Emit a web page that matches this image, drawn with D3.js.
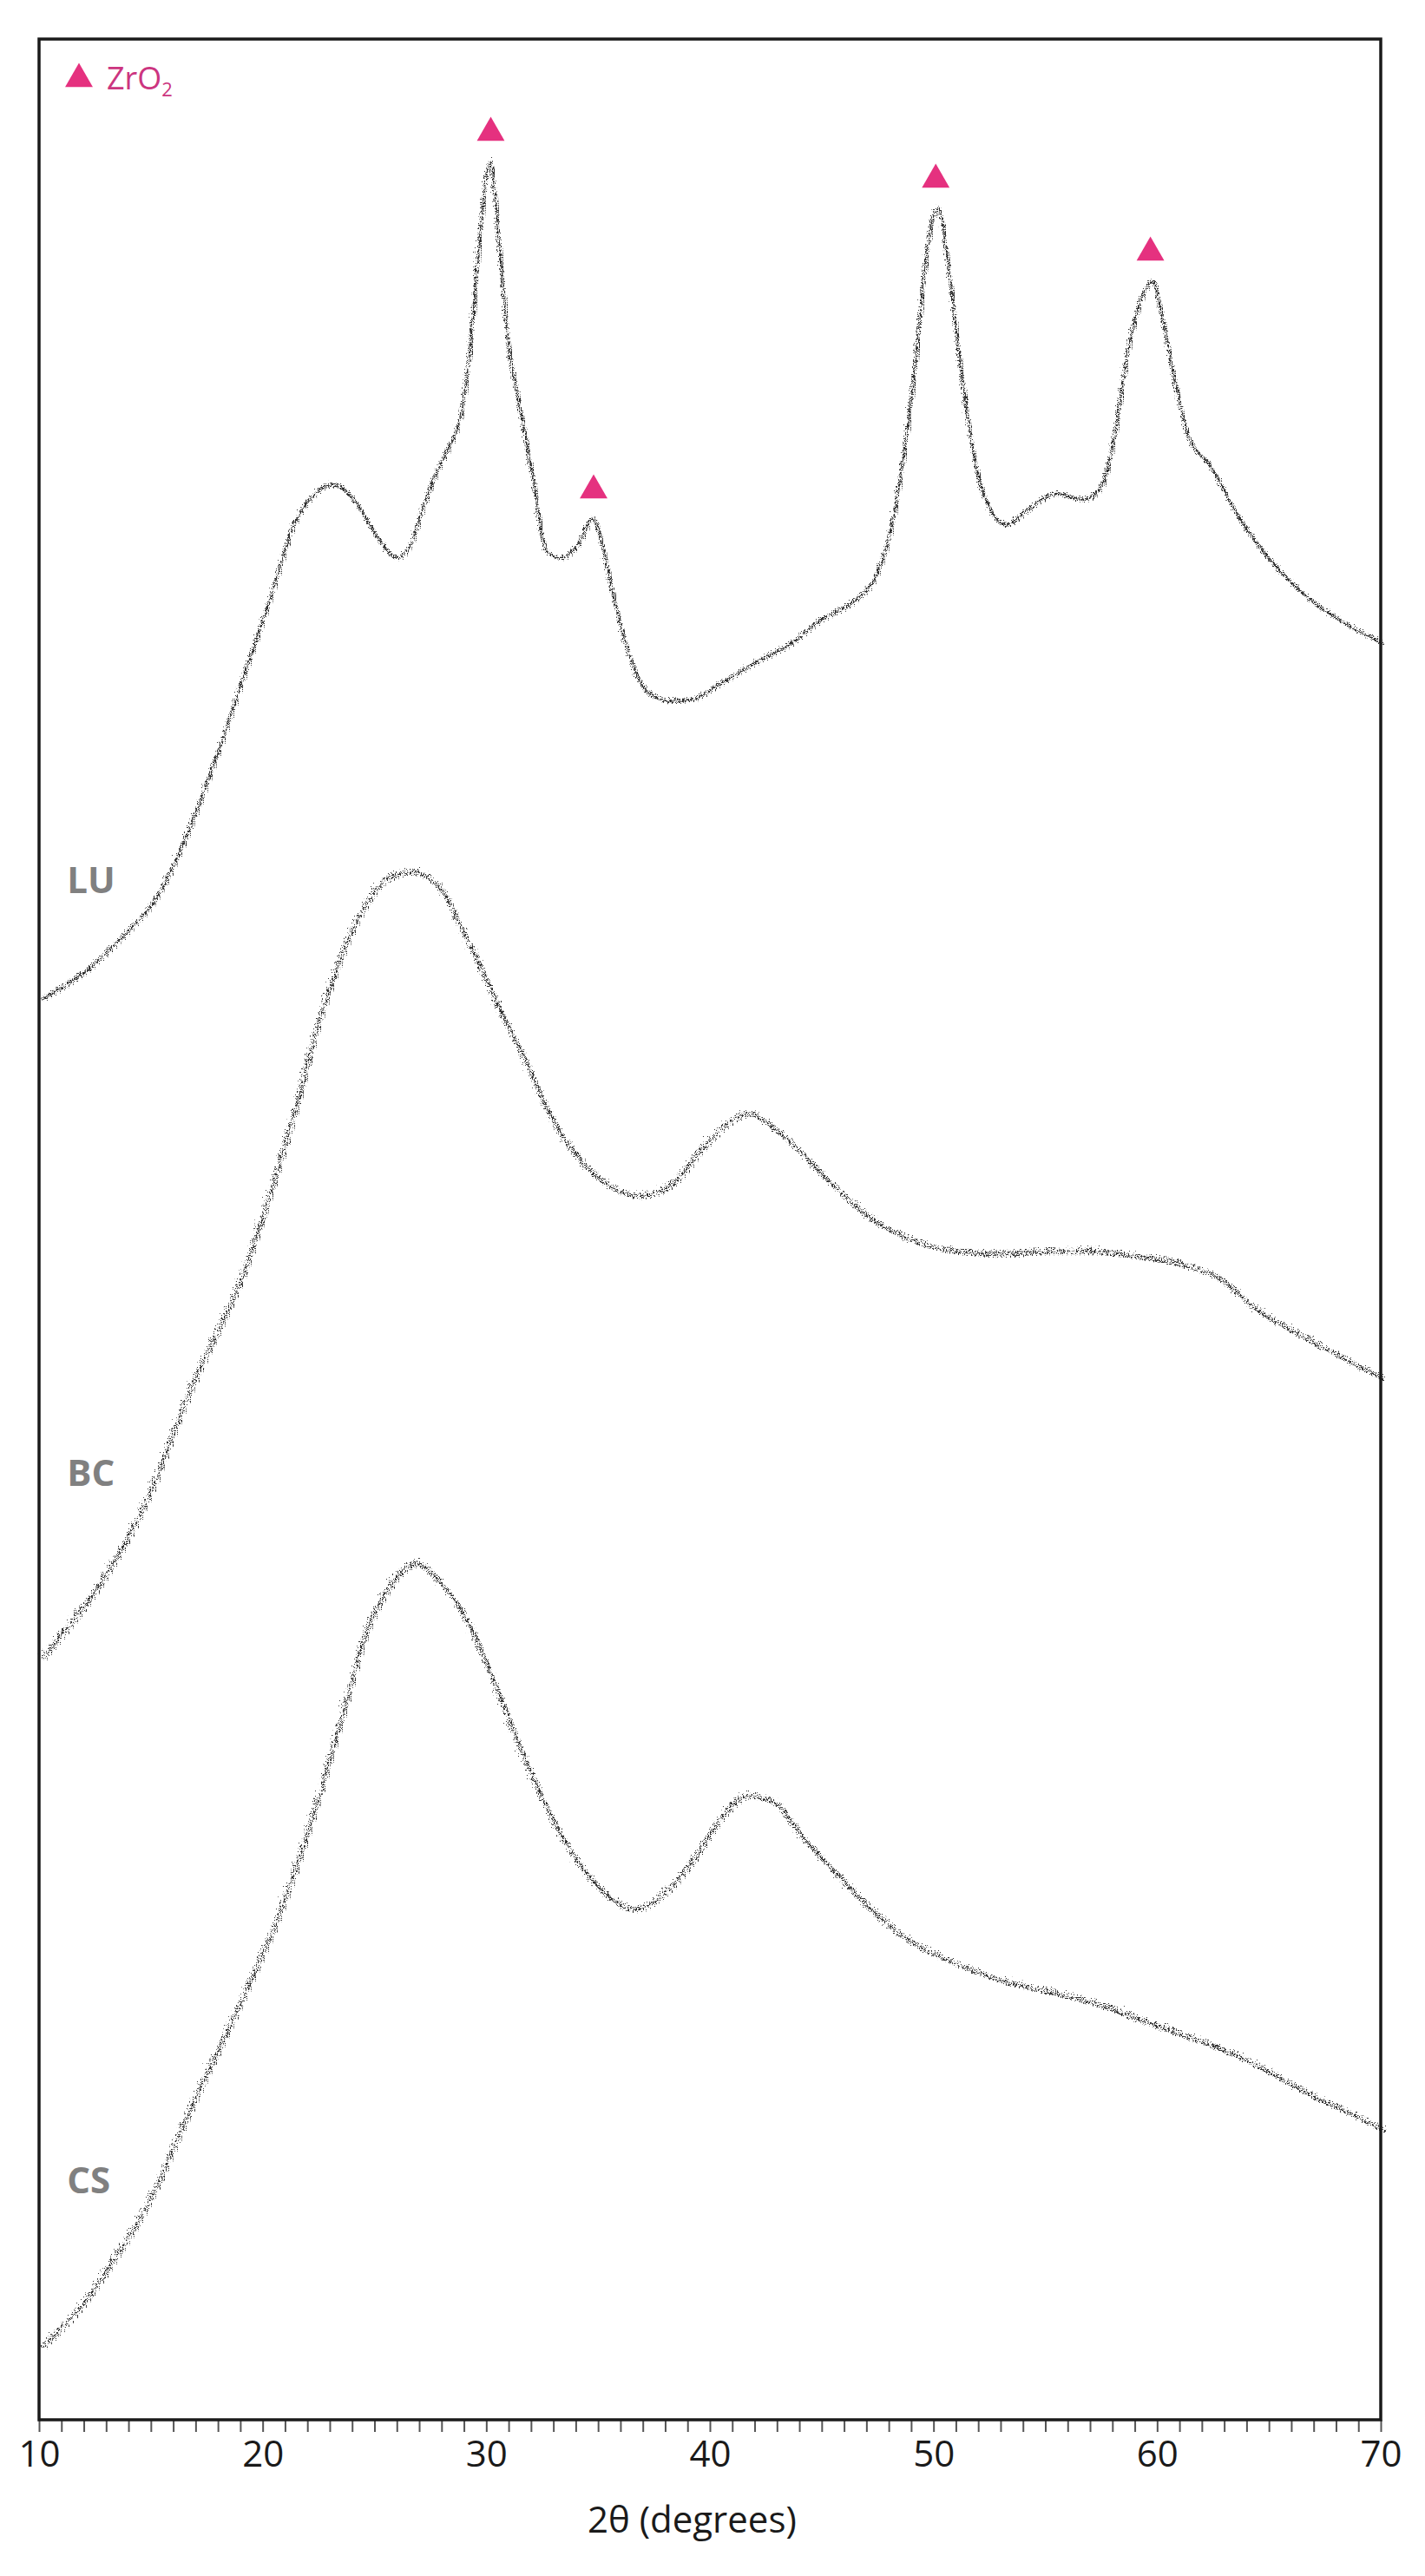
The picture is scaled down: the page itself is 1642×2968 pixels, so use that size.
<!DOCTYPE html>
<html>
<head>
<meta charset="utf-8">
<script src="https://cdn.jsdelivr.net/npm/d3@7/dist/d3.min.js"></script>
<style>
  body { margin: 0; background: #fff; }
  svg { display: block; font-family: "Open Sans", "DejaVu Sans", sans-serif; }
</style>
</head>
<body>
<div id="chart"></div>
<script>
// XRD patterns, 2θ in degrees vs intensity (a.u.)
const luAngles = [10.0, 11.2, 12.3, 13.3, 14.35, 15.0, 15.6, 16.2, 16.8, 18.0, 19.2, 20.4, 21.25, 22.1, 23.1, 24.1, 25.1, 25.9, 26.5, 27.15, 27.8, 28.35, 28.8, 29.2, 29.6, 30.07, 30.5, 30.9, 31.4, 32.0, 32.6, 33.25, 34.05, 34.7, 35.1, 35.7, 36.3, 37.1, 38.1, 39.15, 40.3, 42.0, 43.6, 44.8, 46.4, 47.3, 47.9, 48.5, 49.1, 49.6, 50.1, 50.6, 51.1, 51.7, 52.3, 53.15, 54.15, 55.4, 56.6, 57.4, 58.0, 58.6, 59.25, 59.7, 60.05, 60.7, 61.3, 62.3, 63.5, 65.1, 66.8, 68.4, 70.0];
const luCounts = [89, 107, 128, 152, 180, 200, 226, 259, 296, 380, 472, 563, 633, 668, 682, 661, 619, 598, 612, 661, 703, 731, 766, 843, 963, 1054, 956, 843, 773, 689, 605, 598, 615, 643, 612, 542, 486, 444, 433, 435, 452, 478, 500, 525, 549, 575, 619, 703, 822, 949, 1001, 928, 822, 717, 661, 636, 654, 672, 665, 679, 738, 836, 899, 917, 885, 801, 738, 703, 647, 591, 549, 521, 500];

const bcAngles = [10.0, 11.0, 12.0, 13.0, 14.0, 15.0, 16.0, 17.0, 18.0, 19.0, 20.2, 21.25, 22.3, 23.3, 24.3, 25.3, 26.5, 27.8, 28.6, 29.6, 30.6, 31.6, 32.6, 33.85, 35.1, 36.7, 38.3, 39.5, 40.8, 41.6, 42.8, 44.0, 45.2, 46.9, 48.9, 50.9, 53.0, 55.0, 57.0, 59.05, 61.1, 62.7, 64.3, 66.0, 67.6, 68.8, 70.0];
const bcCounts = [81, 112, 145, 183, 228, 282, 350, 412, 466, 525, 617, 706, 808, 885, 942, 977, 987, 968, 930, 878, 821, 770, 713, 662, 630, 614, 630, 668, 700, 709, 690, 662, 630, 591, 563, 550, 547, 550, 550, 544, 534, 518, 483, 457, 435, 419, 403];

const csAngles = [10.0, 11.5, 13.1, 14.35, 15.35, 16.4, 17.4, 18.4, 19.4, 20.4, 21.4, 22.5, 23.5, 24.5, 25.5, 26.7, 28.0, 29.0, 30.2, 31.4, 32.6, 33.85, 35.1, 36.5, 37.9, 39.15, 40.3, 41.6, 42.8, 44.0, 45.6, 47.3, 48.9, 50.9, 53.0, 55.0, 57.0, 59.05, 61.1, 63.1, 65.1, 67.2, 68.8, 70.0];
const csCounts = [88, 127, 184, 235, 286, 348, 404, 458, 514, 573, 643, 733, 822, 911, 962, 990, 962, 924, 854, 777, 707, 650, 612, 592, 612, 650, 695, 723, 714, 675, 631, 586, 554, 529, 509, 497, 484, 465, 446, 427, 401, 372, 353, 337];

const seriesNames = ["LU", "BC", "CS"];
const seriesOffsets = [1550, 800, 0];

// ZrO2 reflections marked on the LU pattern
const zro2Angles = [30.2, 34.8, 50.1, 59.7];
const zro2Counts = [1085, 673, 1031, 947];

const xTickValues = [10, 20, 30, 40, 50, 60, 70];

const W = 1642, H = 2968;
const margin = { top: 45, right: 51, bottom: 180, left: 45 };
const innerW = W - margin.left - margin.right;
const innerH = H - margin.top - margin.bottom;
const pink = "#e5317f";

const svg = d3.select("#chart").append("svg")
  .attr("width", W)
  .attr("height", H);

// detector noise look: displace the stroke with deterministic turbulence
const defs = svg.append("defs");
[["jitterLow", 9, 3], ["jitterHigh", 14, 7]].forEach(([id, scale, seed]) => {
  const f = defs.append("filter").attr("id", id)
    .attr("x", "-3%").attr("y", "-3%").attr("width", "106%").attr("height", "106%");
  f.append("feTurbulence")
    .attr("type", "turbulence").attr("baseFrequency", "0.8 0.5").attr("numOctaves", 2)
    .attr("seed", seed).attr("result", "noise");
  f.append("feDisplacementMap")
    .attr("in", "SourceGraphic").attr("in2", "noise").attr("scale", scale)
    .attr("xChannelSelector", "R").attr("yChannelSelector", "G");
});

const g = svg.append("g").attr("transform", `translate(${margin.left},${margin.top})`);

const x = d3.scaleLinear().domain([10, 70]).range([0, innerW]);
const y = d3.scaleLinear().domain([0, innerH]).range([innerH, 0]);

const series = [
  { name: seriesNames[0], offset: seriesOffsets[0], values: luAngles.map((a, i) => [a, luCounts[i]]), labelLift: 209, filter: "jitterLow" },
  { name: seriesNames[1], offset: seriesOffsets[1], values: bcAngles.map((a, i) => [a, bcCounts[i]]), labelLift: 276, filter: "jitterHigh" },
  { name: seriesNames[2], offset: seriesOffsets[2], values: csAngles.map((a, i) => [a, csCounts[i]]), labelLift: 261, filter: "jitterHigh" }
];

const line = d3.line()
  .x(d => x(d[0]))
  .y(d => y(d[1]))
  .curve(d3.curveMonotoneX);

g.selectAll(".pattern")
  .data(series)
  .join("path")
  .attr("class", "pattern")
  .attr("fill", "none")
  .attr("stroke", "#2e2e2e")
  .attr("stroke-width", 2.4)
  .attr("filter", s => `url(#${s.filter})`)
  .attr("d", s => line(s.values.map(d => [d[0], d[1] + s.offset])));

g.selectAll(".series-label")
  .data(series)
  .join("text")
  .attr("class", "series-label")
  .attr("x", x(11.25))
  .attr("y", s => y(s.offset + s.labelLift))
  .attr("fill", "#808080")
  .attr("font-weight", 700)
  .attr("font-size", 42)
  .text(s => s.name);

// peak markers
const tri = d3.symbol().type(d3.symbolTriangle).size(440);
g.selectAll(".marker")
  .data(zro2Angles.map((a, i) => [a, zro2Counts[i] + seriesOffsets[0]]))
  .join("path")
  .attr("class", "marker")
  .attr("transform", d => `translate(${x(d[0])},${y(d[1])})`)
  .attr("fill", pink)
  .attr("d", tri);

// legend
const legend = g.append("g").attr("transform", "translate(46,46)");
legend.append("path").attr("d", tri).attr("fill", pink);
const lt = legend.append("text")
  .attr("x", 32).attr("y", 12)
  .attr("fill", "#cc3580")
  .attr("font-size", 36);
lt.append("tspan").text("ZrO");
lt.append("tspan").attr("dy", 8).attr("font-size", 22).text("2");

// x axis with minor ticks each degree
const xAxis = d3.axisBottom(x)
  .tickValues(d3.range(10, 71, 1))
  .tickSize(14)
  .tickSizeOuter(0)
  .tickFormat(d => xTickValues.includes(d) ? d : "");

const ax = g.append("g")
  .attr("transform", `translate(0,${innerH})`)
  .call(xAxis);
ax.select(".domain").remove();
ax.selectAll(".tick line").attr("stroke", "#555").attr("stroke-width", 2);
ax.selectAll(".tick text")
  .attr("y", 24)
  .attr("fill", "#1a1a1a")
  .attr("font-family", "Open Sans, sans-serif")
  .attr("font-size", 42);

g.append("text")
  .attr("x", x(39.2))
  .attr("y", innerH + 130)
  .attr("text-anchor", "middle")
  .attr("fill", "#1a1a1a")
  .attr("font-size", 42)
  .text("2θ (degrees)");

// plot frame
g.append("rect")
  .attr("width", innerW)
  .attr("height", innerH)
  .attr("fill", "none")
  .attr("stroke", "#1a1a1a")
  .attr("stroke-width", 3.5);
</script>
</body>
</html>
